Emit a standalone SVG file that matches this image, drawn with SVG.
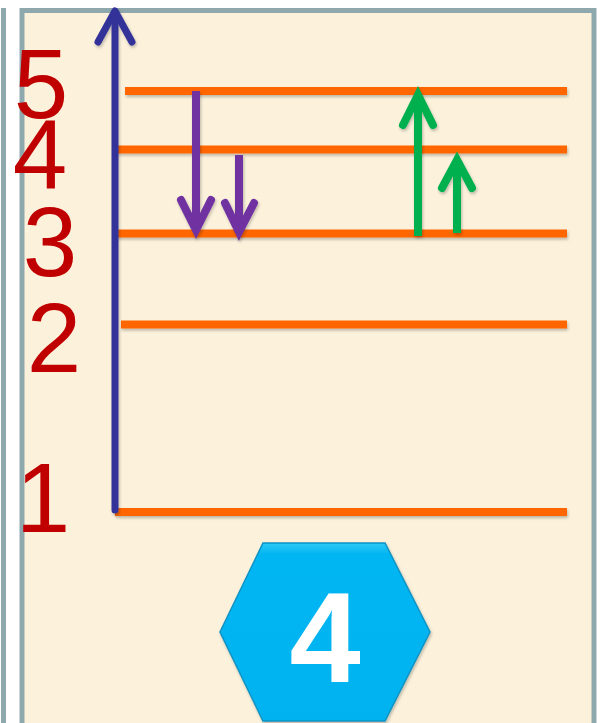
<svg xmlns="http://www.w3.org/2000/svg" width="608" height="723" viewBox="0 0 608 723">
  <defs>
    <style>
      .lvl { stroke: #ff6600; stroke-width: 8; fill: none; }
      .axis { stroke: #333399; stroke-width: 7; fill: none; stroke-linecap: round; stroke-linejoin: round; }
      .down { stroke: #7030a0; stroke-width: 8; fill: none; }
      .up { stroke: #00b050; stroke-width: 8; fill: none; }
      .head { stroke-linecap: round; stroke-linejoin: miter; }
      .num { font-family: "Liberation Sans", Arial, sans-serif; font-size: 98px; fill: #c00000; text-anchor: middle; }
    </style>
    <filter id="sh" x="-10%" y="-10%" width="120%" height="130%">
      <feDropShadow dx="1" dy="2" stdDeviation="1.5" flood-color="#000" flood-opacity="0.25"/>
    </filter>
    <linearGradient id="hexg" x1="0" y1="0" x2="0" y2="1">
      <stop offset="0" stop-color="#2ccaf5"/>
      <stop offset="0.06" stop-color="#05b6f2"/>
      <stop offset="1" stop-color="#05b3f0"/>
    </linearGradient>
  </defs>

  <rect x="0" y="0" width="608" height="723" fill="#ffffff"/>
  <!-- previous panel edge -->
  <line x1="3.5" y1="8" x2="3.5" y2="723" stroke="#8fa8ad" stroke-width="5"/>
  <!-- frame -->
  <rect id="frame" x="22" y="10.5" width="572" height="730" fill="#fcf2dc" stroke="#8fa8ad" stroke-width="5"/>

  <g id="levels" filter="url(#sh)">
    <line id="level5" class="lvl" x1="125" y1="91" x2="567" y2="91"/>
    <line id="level4" class="lvl" x1="115" y1="149.5" x2="567" y2="149.5"/>
    <line id="level3" class="lvl" x1="116" y1="233.5" x2="567" y2="233.5"/>
    <line id="level2" class="lvl" x1="121" y1="324.5" x2="567" y2="324.5"/>
    <line id="level1" class="lvl" x1="115" y1="512" x2="567" y2="512"/>
  </g>

  <g id="connectors" filter="url(#sh)">
    <g id="axis">
      <line class="axis" x1="115" y1="510" x2="115" y2="12" stroke-linecap="butt"/>
      <polyline class="axis" points="98,42 115,11 132,42"/>
    </g>
    <g id="down1">
      <line class="down" x1="196" y1="91" x2="196" y2="230"/>
      <polyline class="down head" points="181,200 196,230 211,200"/>
    </g>
    <g id="down2">
      <line class="down" x1="239" y1="155" x2="239" y2="232"/>
      <polyline class="down head" points="225,203 239,232 254,203"/>
    </g>
    <g id="up1">
      <line class="up" x1="418" y1="236" x2="418" y2="95"/>
      <polyline class="up head" points="403,125 418,95 433,125"/>
    </g>
    <g id="up2">
      <line class="up" x1="457" y1="233" x2="457" y2="160"/>
      <polyline class="up head" points="442,188 457,160 472,188"/>
    </g>
  </g>

  <g id="labels">
    <text class="num" x="41" y="118">5</text>
    <text class="num" x="40" y="188">4</text>
    <text class="num" x="50" y="276">3</text>
    <text class="num" x="54" y="372">2</text>
    <text class="num" x="43" y="532">1</text>
  </g>

  <g id="badge" filter="url(#sh)">
    <polygon points="263,543 385,543 430,632 385,721 263,721 220,632" fill="url(#hexg)" stroke="#0a93c4" stroke-width="1.5"/>
    <text x="325" y="682" font-family="Liberation Sans, Arial, sans-serif" font-weight="bold" font-size="128" fill="#ffffff" text-anchor="middle">4</text>
  </g>
</svg>
